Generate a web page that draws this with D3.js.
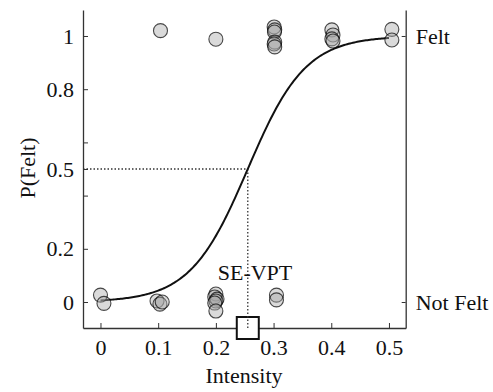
<!DOCTYPE html>
<html><head><meta charset="utf-8">
<script src="https://cdn.jsdelivr.net/npm/d3@7"></script>
<style>
html,body{margin:0;padding:0;background:#fff;}
svg{display:block;}
svg text{font-family:"Liberation Serif","Times New Roman",Times,"Nimbus Roman","DejaVu Serif",serif;}
</style></head>
<body><svg id="c" width="493" height="392"></svg>
<script>
// Data (intensity, plotted response with visual jitter)
const feltX = [0.104, 0.200, 0.301, 0.302, 0.3015, 0.302, 0.301, 0.302, 0.401, 0.403, 0.401, 0.403, 0.505, 0.505];
const feltY = [1.020, 0.988, 1.034, 1.023, 1.015, 0.977, 0.970, 0.959, 1.023, 1.004, 0.989, 0.981, 1.025, 0.985];
const notFeltX = [0.000, 0.006, 0.098, 0.103, 0.107, 0.200, 0.198, 0.202, 0.200, 0.198, 0.200, 0.305, 0.305];
const notFeltY = [0.026, -0.005, 0.004, -0.008, 0.000, 0.030, 0.019, 0.011, 0.004, -0.004, -0.034, 0.026, 0.008];
const xTicks = [0, 0.1, 0.2, 0.3, 0.4, 0.5];
const xTickLabels = ["0", "0.1", "0.2", "0.3", "0.4", "0.5"];
const yTicks = [0, 0.2, 0.4, 0.5, 0.6, 0.8, 1];
const yTickLabels = ["0", "0.2", "", "0.5", "", "0.8", "1"];
const rightTicks = [0, 1];
const rightTickLabels = ["Not Felt", "Felt"];
// fitted psychometric curve
const fitMidpoint = 0.2553;   // SE-VPT
const fitSlope = 20;
const fitRange = [0, 0.5];

const svg = d3.select("#c");
const x = d3.scaleLinear().domain([-0.0303, 0.529]).range([83, 405.7]);
const y = d3.scaleLinear().domain([-0.0977, 1.0977]).range([328, 10]);
const FS = 22;
const FF = '"Liberation Serif","Times New Roman",Times,"Nimbus Roman","DejaVu Serif",serif';
const axisColor = "#333";

function styleAxis(g){
  g.attr("font-family", null).attr("font-size", null);
  g.selectAll("path.domain").attr("stroke", axisColor).attr("stroke-width", 1.3);
  g.selectAll(".tick line").attr("stroke", axisColor).attr("stroke-width", 1);
  g.selectAll(".tick text").attr("fill", "#111").style("font-size", FS + "px")
    .style("font-family", FF);
}

// bottom axis
const gx = svg.append("g").attr("transform", `translate(0,328)`)
  .call(d3.axisBottom(x).tickValues(xTicks).tickFormat((d,i)=>xTickLabels[i])
    .tickSizeInner(-5).tickSizeOuter(0).tickPadding(11));
styleAxis(gx);
// left axis
const gy = svg.append("g").attr("transform", `translate(83,0)`)
  .call(d3.axisLeft(y).tickValues(yTicks).tickFormat((d,i)=>yTickLabels[i])
    .tickSizeInner(-5).tickSizeOuter(0).tickPadding(9));
styleAxis(gy);
// right axis
const gr = svg.append("g").attr("transform", `translate(405.7,0)`)
  .call(d3.axisRight(y).tickValues(rightTicks).tickFormat((d,i)=>rightTickLabels[i])
    .tickSizeInner(-4).tickSizeOuter(0).tickPadding(10));
styleAxis(gr);

// axis titles
svg.append("text").attr("x", 244).attr("y", 383).attr("text-anchor", "middle")
  .style("font-size", FS + "px").style("font-family", FF).attr("fill", "#111").text("Intensity");
svg.append("text").attr("transform", "translate(35,168) rotate(-90)").attr("text-anchor", "middle")
  .style("font-size", FS + "px").style("font-family", FF).attr("fill", "#111").text("P(Felt)");

// dotted guide lines
svg.append("line").attr("x1", x.range()[0]).attr("x2", x(fitMidpoint))
  .attr("y1", y(0.5)).attr("y2", y(0.5))
  .attr("stroke", "#333").attr("stroke-width", 1.3).attr("stroke-dasharray", "1.5,2");

// square marker at threshold
const sq = 22;
svg.append("rect").attr("x", x(fitMidpoint) - sq/2).attr("y", 328 - sq/2)
  .attr("width", sq).attr("height", sq).attr("fill", "#fff")
  .attr("stroke", "#111").attr("stroke-width", 2);

svg.append("line").attr("x1", x(fitMidpoint)).attr("x2", x(fitMidpoint))
  .attr("y1", y(0.5)).attr("y2", 328)
  .attr("stroke", "#333").attr("stroke-width", 1.3).attr("stroke-dasharray", "1.5,2");

// SE-VPT label
svg.append("text").attr("x", 255).attr("y", 280).attr("text-anchor", "middle")
  .style("font-size", FS + "px").style("font-family", FF).attr("fill", "#111").text("SE-VPT");

// fitted curve
const logistic = v => 1 / (1 + Math.exp(-fitSlope * (v - fitMidpoint)));
const curveXs = d3.range(fitRange[0], fitRange[1] + 1e-9, 0.0025);
svg.append("path").datum(curveXs)
  .attr("d", d3.line().x(d => x(d)).y(d => y(logistic(d))))
  .attr("fill", "none").attr("stroke", "#111").attr("stroke-width", 2);

// points
const pts = feltX.map((v,i)=>({x:v, y:feltY[i]}))
  .concat(notFeltX.map((v,i)=>({x:v, y:notFeltY[i]})));
svg.append("g").selectAll("circle").data(pts).join("circle")
  .attr("cx", d => x(d.x)).attr("cy", d => y(d.y)).attr("r", 7)
  .attr("fill", "#a8a8a8").attr("fill-opacity", 0.42)
  .attr("stroke", "#000").attr("stroke-opacity", 0.7).attr("stroke-width", 1.1);
</script></body></html>
